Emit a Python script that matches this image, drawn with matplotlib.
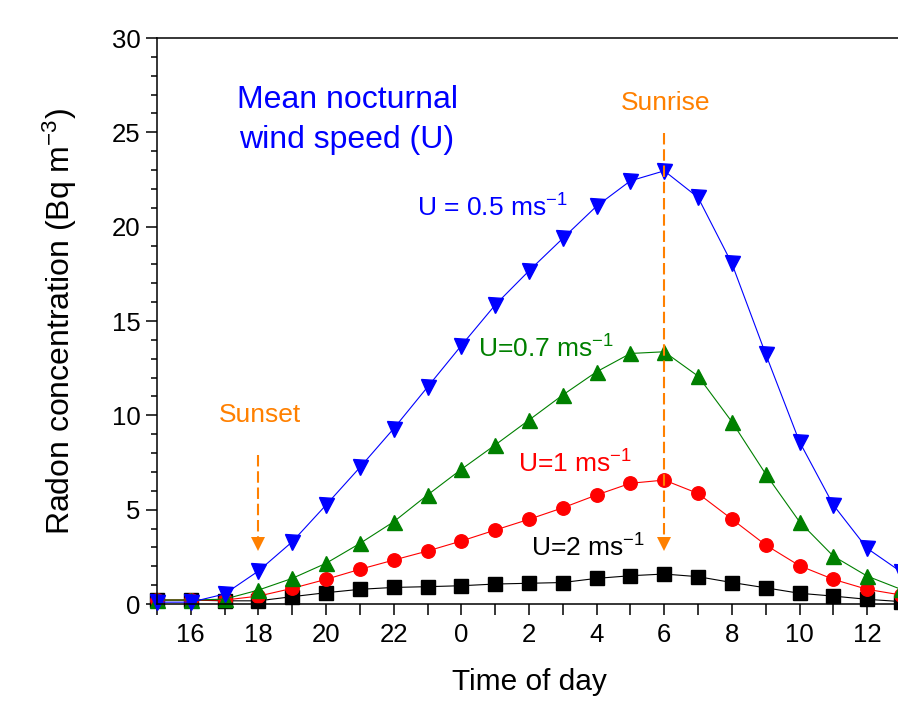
import numpy as np
import matplotlib
matplotlib.use("Agg")
from matplotlib import pyplot as plt
from matplotlib.ticker import MultipleLocator, FixedLocator

plt.rcParams['font.family'] = ['Liberation Sans', 'DejaVu Sans']
plt.rcParams['mathtext.fontset'] = 'custom'
plt.rcParams['mathtext.rm'] = 'Liberation Sans'
plt.rcParams['mathtext.it'] = 'Liberation Sans:italic'
plt.rcParams['mathtext.default'] = 'regular'

# hours counted past midnight of the first day (24 = 0 h, 37 = 13 h)
hours = list(range(15, 38))

u05 = [0.1, 0.1, 0.53, 1.75, 3.3, 5.25, 7.24, 9.3, 11.5, 13.7, 15.85, 17.66,
       19.38, 21.09, 22.43, 22.96, 21.55, 18.05, 13.25, 8.6, 5.25, 2.95, 1.71]
u07 = [0.21, 0.21, 0.26, 0.74, 1.36, 2.16, 3.21, 4.36, 5.78, 7.14, 8.43, 9.75,
       11.08, 12.31, 13.28, 13.37, 12.08, 9.66, 6.89, 4.36, 2.54, 1.48, 0.78]
u1 = [0.21, 0.21, 0.21, 0.42, 0.83, 1.31, 1.84, 2.33, 2.81, 3.34, 3.92, 4.49,
      5.1, 5.78, 6.4, 6.57, 5.86, 4.5, 3.13, 2.03, 1.31, 0.78, 0.48]
u2 = [0.21, 0.21, 0.17, 0.17, 0.39, 0.6, 0.78, 0.88, 0.92, 0.97, 1.06, 1.1,
      1.14, 1.36, 1.5, 1.59, 1.45, 1.14, 0.86, 0.57, 0.42, 0.25, 0.13]

sunset = 18
sunrise = 30
orange = '#ff8000'

fig = plt.figure(figsize=(8.98, 7.04), dpi=100)
ax = fig.add_axes([0.1748, 0.142, 0.8285, 0.804])

ax.plot(hours, u2, color='black', marker='s', ms=9.4, lw=0.8, clip_on=False)
ax.plot(hours, u1, color='#ff0000', marker='o', ms=9.7, lw=0.8, clip_on=False)
ax.plot(hours, u07, color='#008000', marker='^', ms=10.8, lw=0.8, clip_on=False)
ax.plot(hours, u05, color='#0000ff', marker='v', ms=10.8, lw=0.8, clip_on=False)

# sunset / sunrise arrows
for xa, ytop in [(sunset, 7.9), (sunrise, 24.96)]:
    ax.plot([xa, xa], [ytop, 3.4], color=orange, lw=1.5, ls=(0, (5.5, 2.3)))
    ax.plot(xa, 3.18, marker='v', color=orange, ms=10.3, mew=0)

ax.text(16.83, 9.66, 'Sunset', color=orange, fontsize=19, va='baseline')
ax.text(28.72, 26.18, 'Sunrise', color=orange, fontsize=19, va='baseline')

ax.text(20.62, 26.27, 'Mean nocturnal', color='#0000ff', fontsize=23,
        ha='center', va='baseline')
ax.text(20.62, 24.15, 'wind speed (U)', color='#0000ff', fontsize=23,
        ha='center', va='baseline')
ax.text(22.69, 20.56, 'U = 0.5 ms$^{-1}$', color='#0000ff', fontsize=19, va='baseline')
ax.text(24.5, 13.04, 'U=0.7 ms$^{-1}$', color='#008000', fontsize=19, va='baseline')
ax.text(25.68, 6.94, 'U=1 ms$^{-1}$', color='#ff0000', fontsize=19, va='baseline')
ax.text(26.07, 2.49, 'U=2 ms$^{-1}$', color='black', fontsize=19, va='baseline')

ax.set_xlim(15, 37)
ax.set_ylim(0, 30)

major_x = list(range(16, 37, 2))
ax.xaxis.set_major_locator(FixedLocator(major_x))
ax.set_xticklabels([str(h % 24) for h in major_x])
ax.xaxis.set_minor_locator(FixedLocator(list(range(15, 38, 2))))
ax.yaxis.set_major_locator(MultipleLocator(5))
ax.yaxis.set_minor_locator(MultipleLocator(1))

ax.tick_params(axis='x', which='both', direction='out', length=8, width=1.1,
               labelsize=18.5, pad=6, top=False)
ax.tick_params(axis='y', which='major', direction='out', length=8, width=1.1,
               labelsize=18.5, pad=4, right=False)
ax.tick_params(axis='y', which='minor', direction='out', length=4, width=1.1, right=False)

for side in ['left', 'bottom', 'top']:
    ax.spines[side].set_linewidth(1.1)
ax.spines['right'].set_visible(False)

ax.set_xlabel('Time of day', fontsize=21.5)
ax.set_ylabel('Radon concentration (Bq m$^{-3}$)', fontsize=23)
ax.xaxis.set_label_coords(0.5, -0.113)
ax.yaxis.set_label_coords(-0.105, 0.5)

fig.savefig('out.png', dpi=100)
